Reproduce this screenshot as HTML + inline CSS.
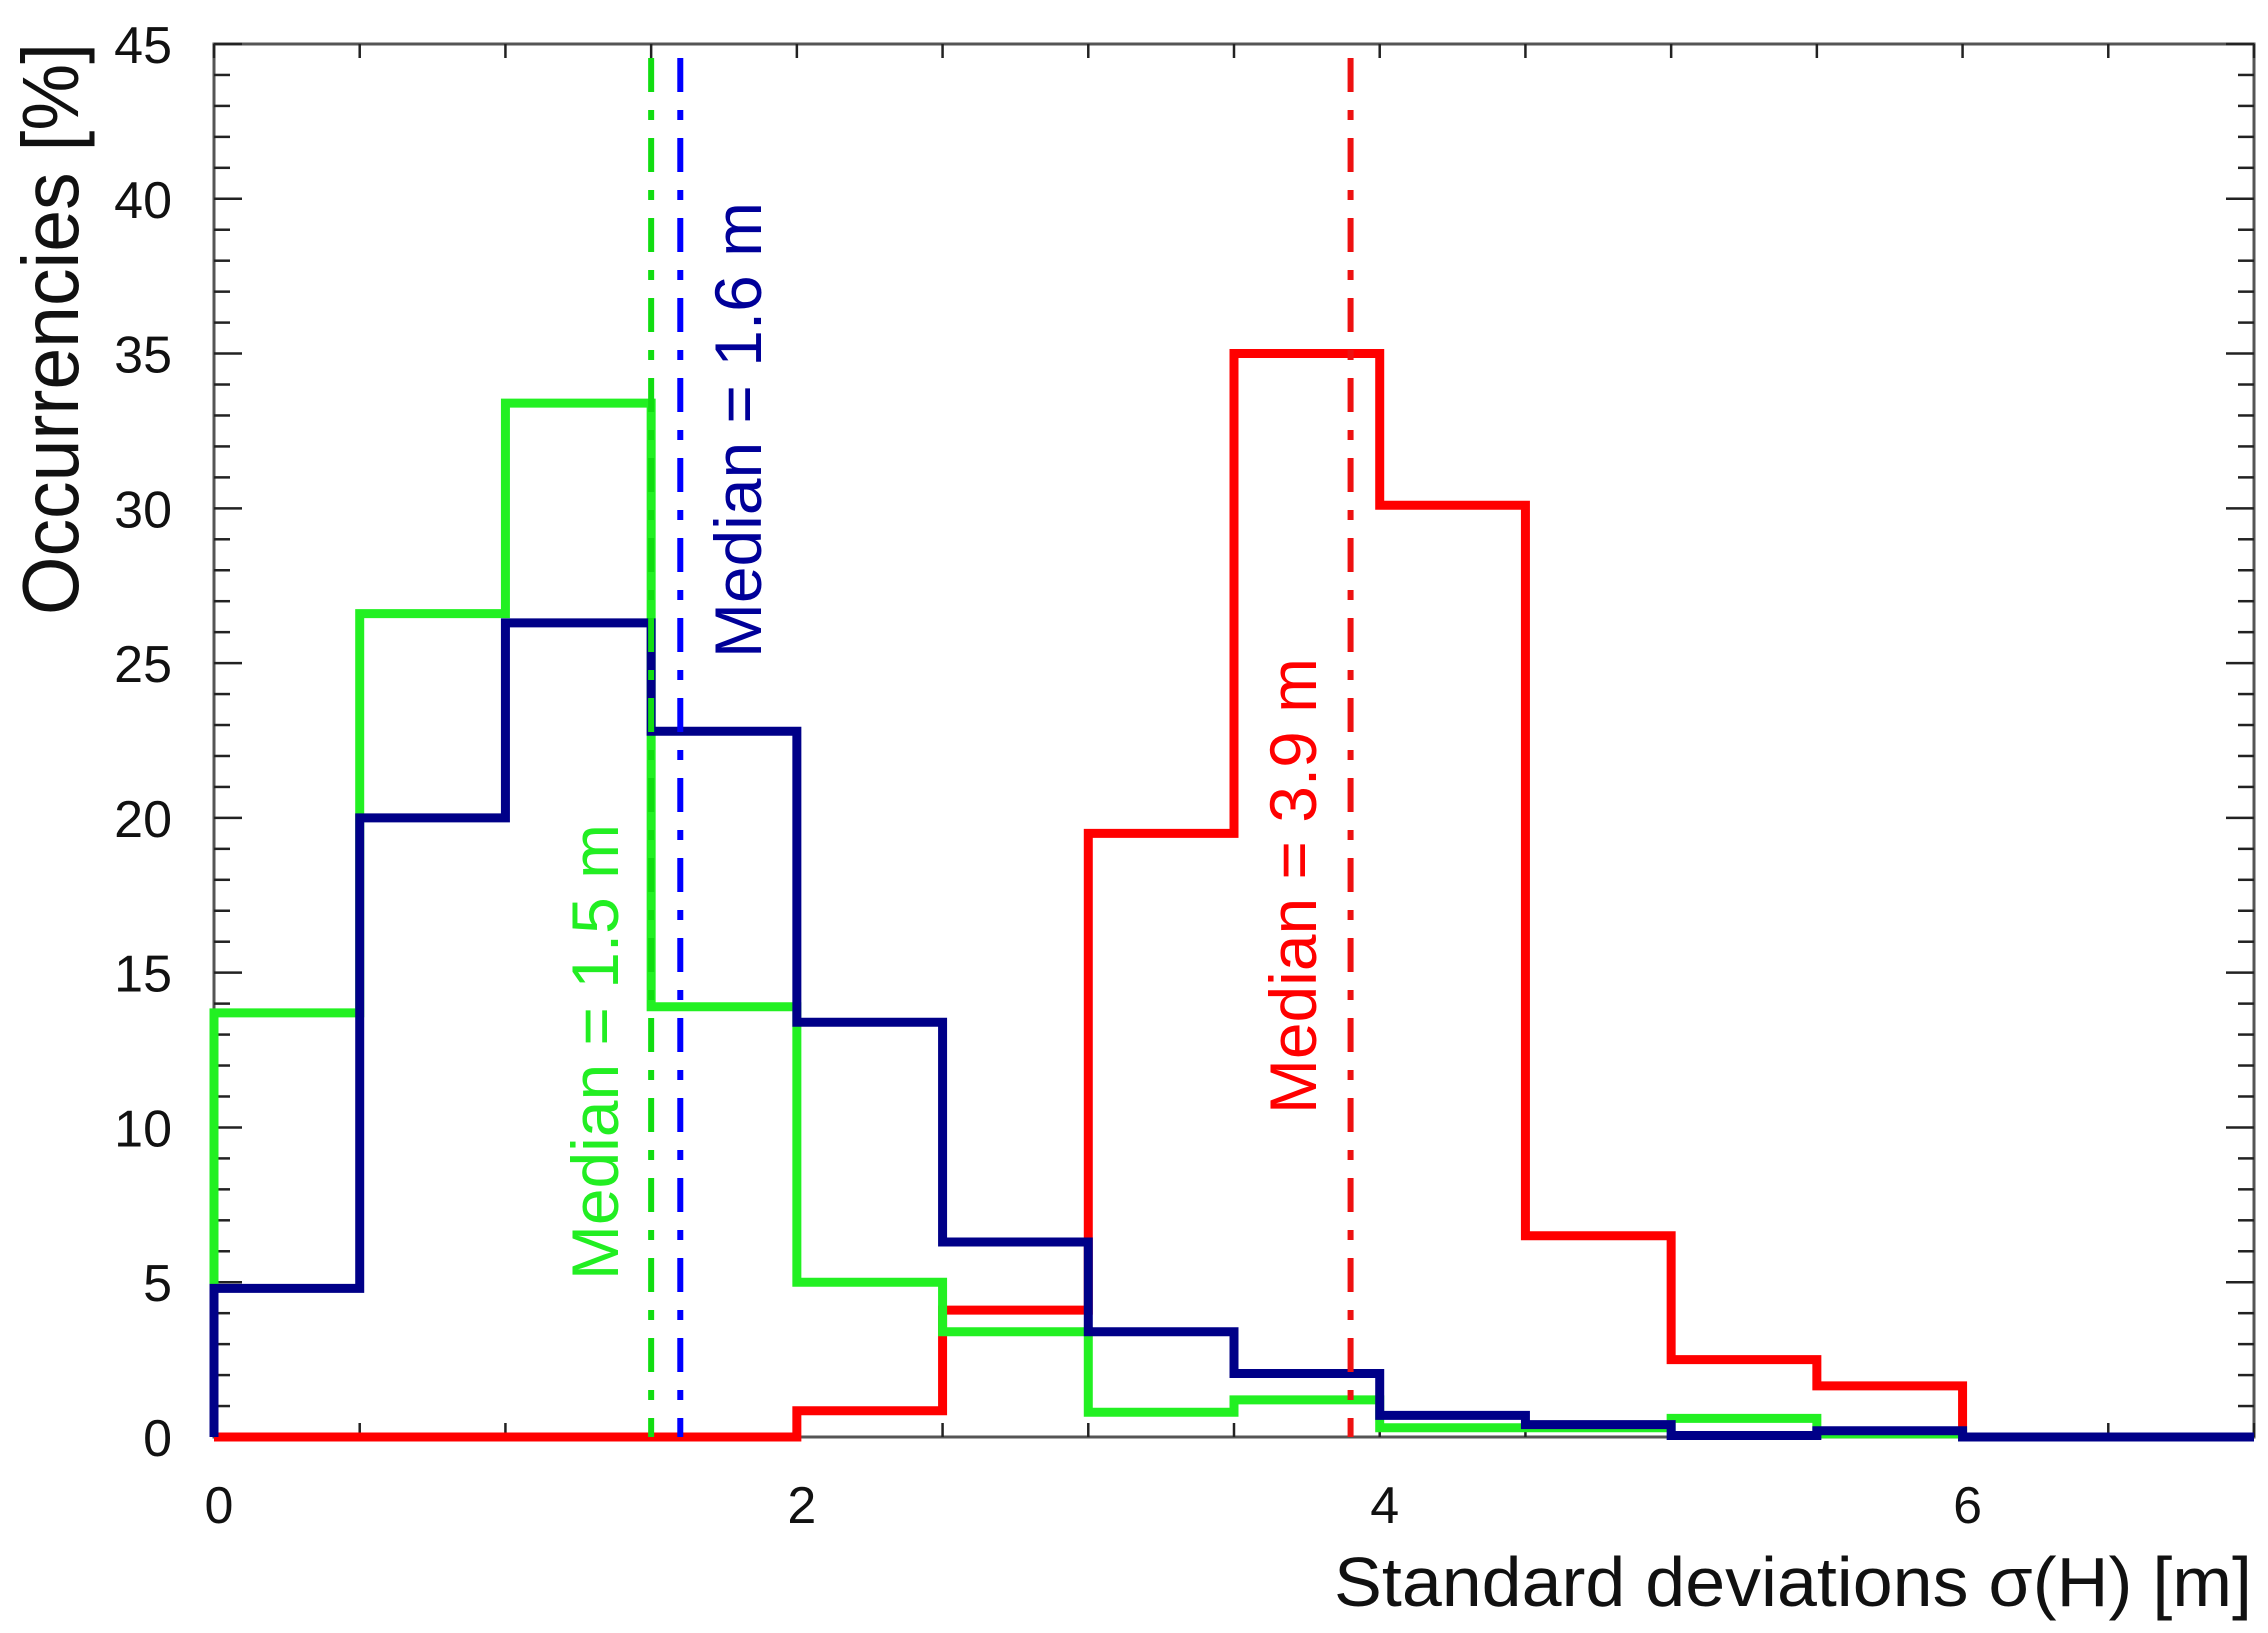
<!DOCTYPE html>
<html><head><meta charset="utf-8"><style>
html,body{margin:0;padding:0;background:#fff;}
svg{display:block;font-family:"Liberation Sans",sans-serif;}
</style></head><body>
<svg id="chart" width="2268" height="1633" viewBox="0 0 2268 1633">
<g id="axes"></g>
<g id="series"></g>
<g id="medians"></g>
<text transform="translate(78,615) rotate(-90)" font-size="80" textLength="572" lengthAdjust="spacingAndGlyphs" fill="#111">Occurrencies [%]</text>
<text x="1334" y="1606" font-size="70" textLength="918" lengthAdjust="spacingAndGlyphs" fill="#111">Standard deviations σ(H) [m]</text>
</svg>
<script>
const binEdges = [0,0.5,1,1.5,2,2.5,3,3.5,4,4.5,5,5.5,6,6.5,7];
const greenValues = [13.7,26.6,33.4,13.9,5.0,3.4,0.8,1.2,0.3,0.3,0.6,0.1,0,0];
const blueValues  = [4.8,20.0,26.3,22.8,13.4,6.3,3.4,2.05,0.7,0.4,0.05,0.2,0,0];
const redValues   = [0,0,0,0,0.85,4.1,19.5,35.0,30.1,6.5,2.5,1.65,0,0];
const medianValues = [1.5,1.6,3.9];
const medianLabels = ["Median = 1.5 m","Median = 1.6 m","Median = 3.9 m"];
const xTickLabels = [0,2,4,6];
const yTickLabels = [0,5,10,15,20,25,30,35,40,45];

const X0=214, X1=2254, Y0=1437, Y1=44, XMAX=7, YMAX=45;
const sx = v => X0 + (X1-X0)*v/XMAX;
const sy = v => Y0 - (Y0-Y1)*v/YMAX;
const NS="http://www.w3.org/2000/svg";
function mk(tag, parent, attrs){const e=document.createElementNS(NS,tag);for(const k in attrs)e.setAttribute(k,attrs[k]);parent.appendChild(e);return e;}

const axes=document.getElementById('axes');
const frame=mk('rect',axes,{x:X0,y:Y1,width:X1-X0,height:Y0-Y1,fill:'none',stroke:'#555',"stroke-width":3});


for(let v=0;v<=YMAX;v++){
  const len = v%5===0?28:16;
  const t1=mk('line',axes,{x1:X0,x2:X0+len,y1:sy(v),y2:sy(v),stroke:'#222',"stroke-width":2.5});
  
  
  const t2=mk('line',axes,{x1:X1,x2:X1-len,y1:sy(v),y2:sy(v),stroke:'#222',"stroke-width":2.5});
  
  
}
for(let v=0;v<=XMAX;v+=0.5){
  const b=mk('line',axes,{x1:sx(v),x2:sx(v),y1:Y0,y2:Y0-14,stroke:'#222',"stroke-width":2.5});
  
  
  const t=mk('line',axes,{x1:sx(v),x2:sx(v),y1:Y1,y2:Y1+14,stroke:'#222',"stroke-width":2.5});
  
  
}
yTickLabels.forEach(v=>{
  const t=mk('text',axes,{x:172,y:sy(v)+19,"font-size":52,"text-anchor":"end",fill:'#111'});
  t.textContent=v;
  
  
});
xTickLabels.forEach(v=>{
  const t=mk('text',axes,{x:sx(v)+5,y:1523,"font-size":52,"text-anchor":"middle",fill:'#111'});
  t.textContent=v;
  
  
});

function stepPath(vals){
  let d=`M${sx(binEdges[0])},${sy(0)}`;
  vals.forEach((v,i)=>{d+=` L${sx(binEdges[i])},${sy(v)} L${sx(binEdges[i+1])},${sy(v)}`;});
  return d;
}
const series=document.getElementById('series');
const sr=mk('path',series,{d:stepPath(redValues),fill:'none',stroke:'#ff0000',"stroke-width":9});


const sg=mk('path',series,{d:stepPath(greenValues),fill:'none',stroke:'#22f022',"stroke-width":9});


const sb=mk('path',series,{d:stepPath(blueValues),fill:'none',stroke:'#000088',"stroke-width":9});



const med=document.getElementById('medians');
const lineColors=['#11dd11','#0000ff','#ee1111'];
const textColors=['#22ee22','#000099','#ff0000'];
const textSpans=[[824,1280,618],[202,658,761],[658,1114,1316]];
medianValues.forEach((m,i)=>{
  const l=mk('line',med,{x1:sx(m),x2:sx(m),y1:58,y2:Y0,stroke:lineColors[i],"stroke-width":6,"stroke-dasharray":"34 18 10 18"});
  
  
  const s=textSpans[i];
  const t=mk('text',med,{transform:`translate(${s[2]},${s[1]}) rotate(-90)`,"font-size":66,fill:textColors[i],textLength:s[1]-s[0],lengthAdjust:"spacingAndGlyphs"});
  t.textContent=medianLabels[i];
  
  
});
</script>
</body></html>
